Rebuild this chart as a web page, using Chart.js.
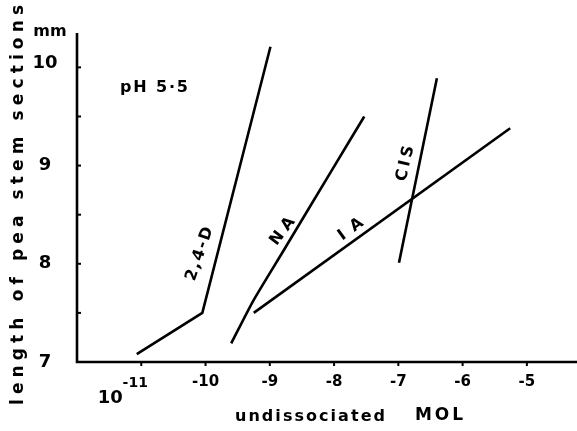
<!DOCTYPE html>
<html>
<head>
<meta charset="utf-8">
<script src="https://cdn.jsdelivr.net/npm/chart.js@4.4.1/dist/chart.umd.min.js"></script>
<style>
html,body{margin:0;padding:0;background:#fff;}
#wrap{width:577px;height:431px;}
</style>
</head>
<body>
<div id="wrap"><canvas id="c" width="577" height="431"></canvas></div>
<script>
// ---- data (log10 undissociated molarity vs length, mm) ----
const xTickValues = [-11, -10, -9, -8, -7, -6, -5];
const xTickLabels = ['-11', '-10', '-9', '-8', '-7', '-6', '-5'];
const yTickValues = [7, 8, 9, 10];
const yTickLabels = ['7', '8', '9', '10'];
const yMinorTicks = [7.5, 8.5, 9.5];

const d24X = [-11.07, -10.05, -8.99];
const d24Y = [7.08, 7.50, 10.21];
const naX = [-9.60, -9.26, -8.79, -8.01, -7.53];
const naY = [7.19, 7.62, 8.13, 8.98, 9.50];
const iaX = [-9.25, -5.26];
const iaY = [7.50, 9.38];
const cisX = [-6.99, -6.40];
const cisY = [8.01, 9.89];

const seriesNames = ['2,4-D', 'NA', 'IA', 'CIS'];
// label anchors (data coords) and rotation (degrees)
const labelX = [-10.09, -8.80, -7.74, -6.89];
const labelY = [8.10, 8.33, 8.35, 9.02];
const labelRot = [-71, -52, -36, -77];
const labelWidth = [56, 31, 27, 36];

function pts(xs, ys) { return xs.map((x, i) => ({x: x, y: ys[i]})); }

const lineStyle = {showLine: true, borderColor: '#000', borderWidth: 2.6, pointRadius: 0, fill: false, tension: 0};

const FONT = '"DejaVu Sans", "Liberation Sans", sans-serif';

function spacedText(ctx, text, cx, cy, targetWidth) {
  ctx.letterSpacing = '0px';
  const w = ctx.measureText(text).width;
  const n = text.length;
  const sp = Math.max(0, (targetWidth - w) / (n - 1));
  ctx.letterSpacing = sp + 'px';
  ctx.textAlign = 'left';
  ctx.fillText(text, cx - targetWidth / 2, cy);
  ctx.letterSpacing = '0px';
}

const decor = {
  id: 'decor',
  afterDraw(chart) {
    const ctx = chart.ctx;
    const xs = chart.scales.x, ys = chart.scales.y;
    const ca = chart.chartArea;
    ctx.save();
    ctx.strokeStyle = '#000';
    ctx.fillStyle = '#000';
    // axes
    ctx.lineWidth = 2.6;
    ctx.beginPath();
    ctx.moveTo(ca.left, ca.top);
    ctx.lineTo(ca.left, ca.bottom);
    ctx.lineTo(ca.right, ca.bottom);
    ctx.stroke();
    // y ticks (inward)
    ctx.lineWidth = 2;
    yTickValues.concat(yMinorTicks).forEach(v => {
      if (v === 7) return;
      const py = ys.getPixelForValue(v);
      ctx.beginPath(); ctx.moveTo(ca.left, py); ctx.lineTo(ca.left + 4, py); ctx.stroke();
    });
    // x ticks (outward)
    xTickValues.forEach(v => {
      const px = xs.getPixelForValue(v);
      ctx.beginPath(); ctx.moveTo(px, ca.bottom); ctx.lineTo(px, ca.bottom + 4); ctx.stroke();
    });
    ctx.textBaseline = 'middle';
    // y tick labels
    ctx.font = 'bold 18px ' + FONT;
    ctx.textAlign = 'center';
    yTickValues.forEach((v, i) => {
      const py = ys.getPixelForValue(v);
      const off = v === 10 ? -4 : 0;
      ctx.fillText(yTickLabels[i], ca.left - 32, py + off);
    });
    // mm
    ctx.font = 'bold 16px ' + FONT;
    ctx.fillText('mm', ca.left - 27, ca.top - 1);
    // x tick labels
    ctx.font = 'bold 15px ' + FONT;
    xTickValues.forEach((v, i) => {
      const px = xs.getPixelForValue(v);
      if (v === -11) {
        ctx.font = 'bold 14px ' + FONT;
        ctx.fillText(xTickLabels[i], px - 6, ca.bottom + 21);
        ctx.font = 'bold 18px ' + FONT;
        ctx.fillText('10', px - 31, ca.bottom + 36);
        ctx.font = 'bold 15px ' + FONT;
      } else {
        ctx.fillText(xTickLabels[i], px, ca.bottom + 20);
      }
    });
    // x title
    ctx.font = 'bold 16px ' + FONT;
    spacedText(ctx, 'undissociated', 310, ca.bottom + 55, 150);
    ctx.font = 'bold 17px ' + FONT;
    spacedText(ctx, 'MOL', 439, ca.bottom + 54, 48);
    // y title
    ctx.save();
    ctx.translate(19, 205);
    ctx.rotate(-Math.PI / 2);
    ctx.font = 'bold 17px ' + FONT;
    spacedText(ctx, 'length of pea stem sections', 0, 0, 400);
    ctx.restore();
    // pH label
    ctx.font = 'bold 16px ' + FONT;
    spacedText(ctx, 'pH 5·5', 154, 88, 68);
    // series labels
    ctx.font = 'bold 16px ' + FONT;
    seriesNames.forEach((s, i) => {
      const px = xs.getPixelForValue(labelX[i]);
      const py = ys.getPixelForValue(labelY[i]);
      ctx.save();
      ctx.translate(px, py);
      ctx.rotate(labelRot[i] * Math.PI / 180);
      spacedText(ctx, s, 0, 0, labelWidth[i]);
      ctx.restore();
    });
    ctx.restore();
  }
};

new Chart(document.getElementById('c'), {
  type: 'scatter',
  data: {
    datasets: [
      Object.assign({label: seriesNames[0], data: pts(d24X, d24Y)}, lineStyle),
      Object.assign({}, lineStyle, {label: seriesNames[1], data: pts(naX, naY), tension: 0.2}),
      Object.assign({label: seriesNames[2], data: pts(iaX, iaY)}, lineStyle),
      Object.assign({label: seriesNames[3], data: pts(cisX, cisY)}, lineStyle)
    ]
  },
  options: {
    responsive: false,
    animation: false,
    devicePixelRatio: 1,
    layout: {padding: {left: 77, top: 33, right: 0, bottom: 69}},
    plugins: {legend: {display: false}, tooltip: {enabled: false}},
    scales: {
      x: {type: 'linear', min: -12.0, max: -4.22, display: false},
      y: {type: 'linear', min: 7, max: 10.35, display: false}
    }
  },
  plugins: [decor]
});
</script>
</body>
</html>
